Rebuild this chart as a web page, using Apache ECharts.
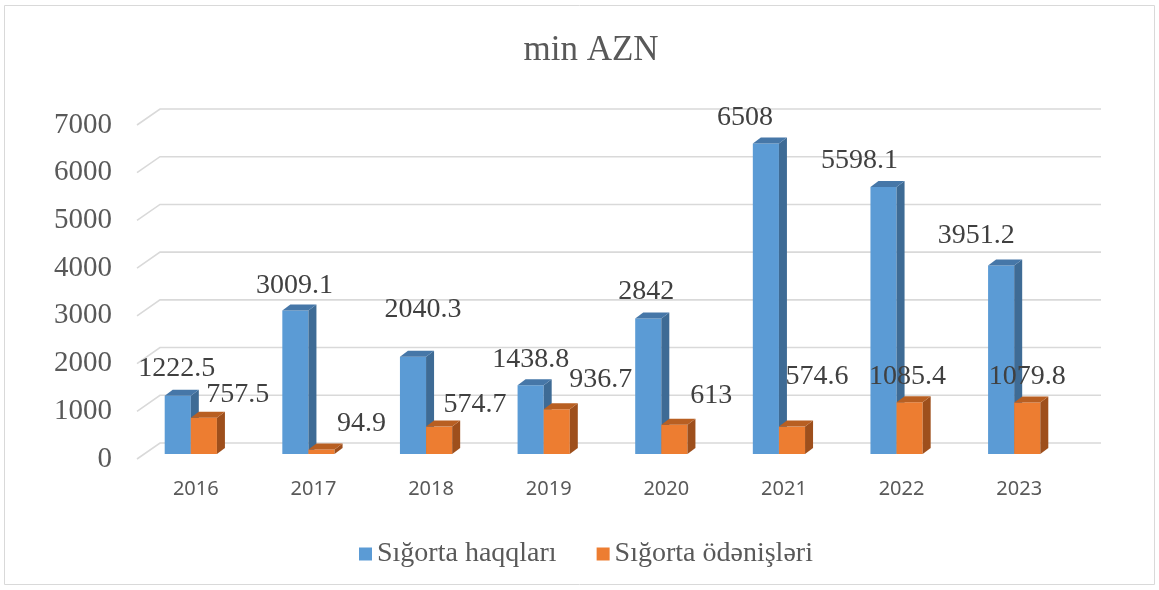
<!DOCTYPE html>
<html>
<head>
<meta charset="utf-8">
<title>min AZN</title>
<script src="https://cdn.jsdelivr.net/npm/echarts@6.0.0/dist/echarts.min.js"></script>
<style>
	html, body { margin: 0; padding: 0; background: #fff; }
	#insuranceBar { width: 1159px; height: 590px; }
</style>
</head>
<body>
<div id="insuranceBar"></div>
<script>
// data
var years = ['2016', '2017', '2018', '2019', '2020', '2021', '2022', '2023'];
var haqqlari = [1222.5, 3009.1, 2040.3, 1438.8, 2842, 6508, 5598.1, 3951.2];
var odenisleri = [757.5, 94.9, 574.7, 936.7, 613, 574.6, 1085.4, 1079.8];
var yTicks = [0, 1000, 2000, 3000, 4000, 5000, 6000, 7000];
var seriesNames = ['Sığorta haqqları', 'Sığorta ödənişləri'];

// where excel put the value labels (offset from the top of each bar)
var haqqLabelShift = [[-1, -27], [-1, -25], [10, -47], [0, -26], [-2, -27], [-21, -26], [-24, -26], [-25, -30]];
var odenLabelShift = [[34, -23], [40, -26], [36, -22], [44, -30], [37, -29], [25, -50], [-2, -26], [0, -26]];

var serif = '"Liberation Serif", "Times New Roman", serif';
var DX = 8, DY = 6;          // depth of the fake 3d
var WALL_X = 23, WALL_Y = 16; // back wall offset

function initChart() {
	var chart = echarts.init(document.getElementById('insuranceBar'));

	function barItem(side, colors, shifts) {
		return function(params, api) {
			var idx = api.value(0);
			var val = api.value(1);
			var base = api.coord([idx, 0]);
			var top = api.coord([idx, val]);
			var w = api.size([1, 0])[0] * 0.222;
			var cx = base[0] - 5;
			var x0 = side === 0 ? cx - w : cx;
			var y0 = base[1] - 5;
			var y1 = top[1] - 5;
			var sh = shifts[params.dataIndex];
			return {
				type : 'group',
				children : [ {
					type : 'rect',
					shape : { x : x0, y : y1, width : w, height : y0 - y1 },
					style : { fill : colors[0] }
				}, {
					type : 'polygon',
					shape : { points : [[x0 + w, y0], [x0 + w + DX, y0 - DY], [x0 + w + DX, y1 - DY], [x0 + w, y1]] },
					style : { fill : colors[1] }
				}, {
					type : 'polygon',
					shape : { points : [[x0, y1], [x0 + DX, y1 - DY], [x0 + w + DX, y1 - DY], [x0 + w, y1]] },
					style : { fill : colors[2] }
				}, {
					type : 'text',
					z2 : 10,
					style : {
						x : x0 + w / 2 + sh[0],
						y : y1 + sh[1],
						text : String(val),
						align : 'center',
						verticalAlign : 'middle',
						font : '28px ' + serif,
						fill : '#404040'
					}
				} ]
			};
		};
	}

	var option = {
		animation : false,
		title : {
			text : 'min AZN',
			left : 586,
			top : 28,
			textAlign : 'center',
			textStyle : {
				fontFamily : serif,
				fontSize : 35,
				fontWeight : 'normal',
				color : '#595959'
			}
		},
		legend : {
			data : seriesNames,
			left : 354,
			top : 535,
			icon : 'rect',
			itemWidth : 13,
			itemHeight : 13,
			itemGap : 40,
			textStyle : {
				fontFamily : serif,
				fontSize : 28,
				color : '#595959'
			}
		},
		graphic : [ {
			type : 'rect',
			shape : { x : 4.5, y : 5.5, width : 1150, height : 579 },
			style : { fill : 'none', stroke : '#d9d9d9', lineWidth : 1 },
			silent : true
		} ],
		grid : {
			left : 137,
			right : 81,
			top : 125,
			bottom : 131
		},
		xAxis : {
			type : 'category',
			data : years,
			axisLine : { show : false },
			axisTick : { show : false },
			axisLabel : {
				margin : 20,
				fontFamily : '"Noto Sans", sans-serif',
				fontSize : 20,
				color : '#595959'
			}
		},
		yAxis : {
			type : 'value',
			min : 0,
			max : 7000,
			interval : 1000,
			axisLine : { show : false },
			axisTick : { show : false },
			splitLine : { show : false },
			axisLabel : {
				margin : 25,
				fontFamily : serif,
				fontSize : 29,
				color : '#595959',
				formatter : function(v) { return String(v); }
			}
		},
		series : [ {
			type : 'custom',
			name : 'wall',
			silent : true,
			z : 1,
			data : yTicks.map(function(t) { return [0, t]; }),
			renderItem : function(params, api) {
				var cs = params.coordSys;
				var y = api.coord([0, api.value(1)])[1];
				return {
					type : 'polyline',
					shape : { points : [[cs.x, y], [cs.x + WALL_X, y - WALL_Y], [cs.x + cs.width + WALL_X, y - WALL_Y]] },
					style : { stroke : '#d9d9d9', lineWidth : 1.6, fill : null }
				};
			}
		}, {
			type : 'custom',
			name : seriesNames[0],
			z : 2,
			itemStyle : { color : '#5b9bd5' },
			data : haqqlari.map(function(v, i) { return [i, v]; }),
			renderItem : barItem(0, ['#5b9bd5', '#3e6b95', '#4677a8'], haqqLabelShift)
		}, {
			type : 'custom',
			name : seriesNames[1],
			z : 3,
			itemStyle : { color : '#ed7d31' },
			data : odenisleri.map(function(v, i) { return [i, v]; }),
			renderItem : barItem(1, ['#ed7d31', '#9e4f1c', '#b85f22'], odenLabelShift)
		} ]
	};
	chart.setOption(option, true);
}

initChart();
</script>
</body>
</html>
